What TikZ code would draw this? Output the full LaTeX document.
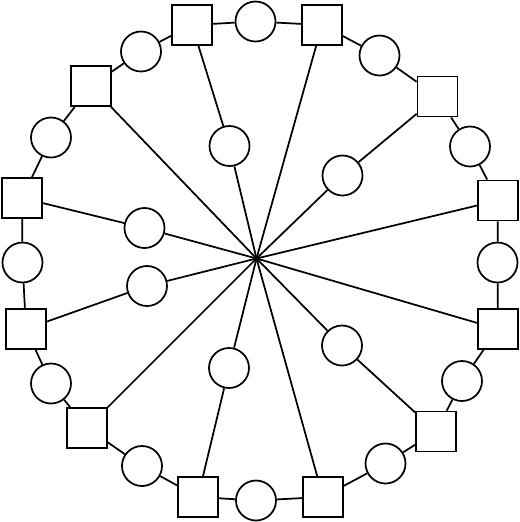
\documentclass[tikz,border=0pt]{standalone}
\usepackage{tikz}

\begin{document}
\begin{tikzpicture}[x=0.75pt,y=0.75pt,yscale=-1,xscale=1,
    sq/.style={draw,line width=1.3pt,rectangle,minimum size=30pt,inner sep=0pt},
    rn/.style={draw,line width=1.3pt,circle,minimum size=30pt,inner sep=0pt},
    ln/.style={line width=1.3pt}]
    \useasboundingbox (0,0) rectangle (520,522);
    
    %Center point
    \coordinate (o) at (256.5,258.5);
    
    %Shapes: Outer squares
    \draw (192,25) node [sq] (s1) {};
    \draw (322,25) node [sq] (s2) {};
    \draw (437.5,96.5) node [sq] (s3) {};
    \draw (498,200.5) node [sq] (s4) {};
    \draw (498,329) node [sq] (s5) {};
    \draw (436,431.5) node [sq] (s6) {};
    \draw (323,497) node [sq] (s7) {};
    \draw (198,497) node [sq] (s8) {};
    \draw (87,428) node [sq] (s9) {};
    \draw (26,329) node [sq] (s10) {};
    \draw (22,198) node [sq] (s11) {};
    \draw (91,86) node [sq] (s12) {};
    
    %Shapes: Outer circles
    \draw (255.5,21.5) node [rn] (c1) {};
    \draw (379.5,55.5) node [rn] (c2) {};
    \draw (470,146.5) node [rn] (c3) {};
    \draw (497.5,262.5) node [rn] (c4) {};
    \draw (462,381) node [rn] (c5) {};
    \draw (385.5,463.5) node [rn] (c6) {};
    \draw (256,500.5) node [rn] (c7) {};
    \draw (142,466) node [rn] (c8) {};
    \draw (51,383.5) node [rn] (c9) {};
    \draw (22.5,262.5) node [rn] (c10) {};
    \draw (51,137.5) node [rn] (c11) {};
    \draw (141,51.5) node [rn] (c12) {};
    
    %Shapes: Inner circles
    \draw (229.5,146) node [rn] (i1) {};
    \draw (342.5,175.5) node [rn] (i3) {};
    \draw (342,345.5) node [rn] (i6) {};
    \draw (229,368) node [rn] (i8) {};
    \draw (147,286) node [rn] (i10) {};
    \draw (144.5,228) node [rn] (i11) {};
    
    %Straight Lines: Ring
    \draw [ln] (s1) -- (c1) -- (s2) -- (c2) -- (s3) -- (c3) -- (s4) -- (c4) -- (s5) -- (c5) -- (s6) -- (c6) -- (s7);
    \draw [ln] (s7) -- (c7) -- (s8) -- (c8) -- (s9) -- (c9) -- (s10) -- (c10) -- (s11) -- (c11) -- (s12) -- (c12) -- (s1);
    
    %Straight Lines: Spokes
    \draw [ln] (o) -- (i1) -- (s1);
    \draw [ln] (o) -- (s2);
    \draw [ln] (o) -- (i3) -- (s3);
    \draw [ln] (o) -- (s4);
    \draw [ln] (o) -- (s5);
    \draw [ln] (o) -- (i6) -- (s6);
    \draw [ln] (o) -- (s7);
    \draw [ln] (o) -- (i8) -- (s8);
    \draw [ln] (o) -- (s9);
    \draw [ln] (o) -- (i10) -- (s10);
    \draw [ln] (o) -- (i11) -- (s11);
    \draw [ln] (o) -- (s12);
    
\end{tikzpicture}
\end{document}
